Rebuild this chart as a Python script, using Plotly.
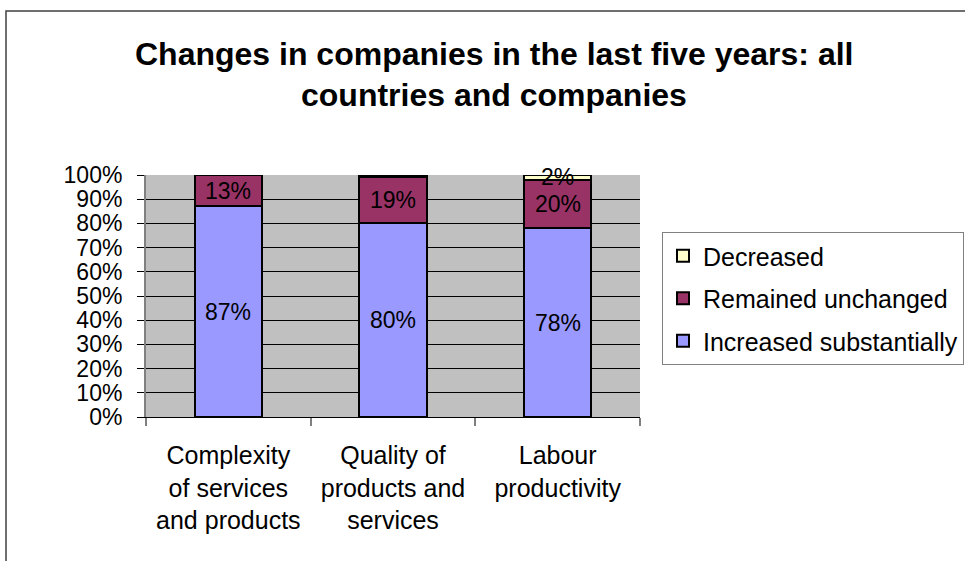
import plotly.graph_objects as go

# Survey results: share of companies per change type
categories = [
    "Complexity<br>of services<br>and products",
    "Quality of<br>products and<br>services",
    "Labour<br>productivity",
]
increased = [87, 80, 78]
unchanged = [13, 19, 20]
decreased = [0, 1, 2]
# Which segments get a value label (the 0% and 1% slivers stay unlabelled)
label_increased = [True, True, True]
label_unchanged = [True, True, True]
label_decreased = [False, False, True]

series = [
    ("Increased substantially", increased, "#9999FF", label_increased, 3),
    ("Remained unchanged", unchanged, "#993366", label_unchanged, 2),
    ("Decreased", decreased, "#FFFFCC", label_decreased, 1),
]

FONT = "Liberation Sans, Arial, sans-serif"

# Plot area in pixels (used to convert pixel positions to paper coords)
W, H = 965, 561
L, R, T, B = 146, 640, 175, 417
pw, ph = R - L, B - T


def px_x(x):
    return (x - L) / pw


def px_y(y):
    return (B - y) / ph


fig = go.Figure()
for name, vals, color, _, rank in series:
    fig.add_trace(go.Bar(
        x=categories, y=vals, name=name,
        marker=dict(color=color, line=dict(color="black", width=2)),
        width=0.41, legendgroup=name, legendrank=rank,
    ))

# Value labels at the middle of each stacked segment
annotations = []
base = [0] * len(categories)
for name, vals, color, show, _ in series:
    for j, v in enumerate(vals):
        if show[j]:
            annotations.append(dict(
                x=categories[j], y=base[j] + v / 2, xref="x", yref="y",
                text=f"{v}%", showarrow=False,
                font=dict(family=FONT, size=23, color="black"),
            ))
        base[j] += v

# Two-line bold title
annotations.append(dict(
    x=px_x(494), y=px_y(54), xref="paper", yref="paper",
    text="<b>Changes in companies in the last five years: all</b>",
    showarrow=False, xanchor="center", yanchor="middle",
    font=dict(family=FONT, size=32, color="black"),
))
annotations.append(dict(
    x=px_x(494), y=px_y(95), xref="paper", yref="paper",
    text="<b>countries and companies</b>",
    showarrow=False, xanchor="center", yanchor="middle",
    font=dict(family=FONT, size=32, color="black"),
))

fig.update_layout(
    width=W, height=H,
    margin=dict(l=L, r=W - R, t=T, b=H - B, pad=0, autoexpand=False),
    paper_bgcolor="white",
    plot_bgcolor="#C0C0C0",
    barmode="stack",
    font=dict(family=FONT, color="black"),
    showlegend=True,
    legend=dict(
        x=px_x(662), y=px_y(232), xanchor="left", yanchor="top",
        traceorder="grouped", tracegroupgap=7,
        bgcolor="white", bordercolor="#808080", borderwidth=1,
        font=dict(family=FONT, size=25, color="black"),
        itemwidth=30,
    ),
    annotations=annotations,
    shapes=[dict(
        type="rect", xref="paper", yref="paper",
        x0=px_x(6), x1=px_x(1100), y0=px_y(700), y1=px_y(11),
        line=dict(color="#404040", width=1.5), fillcolor="rgba(0,0,0,0)",
        layer="below",
    )],
)

fig.update_yaxes(
    range=[0, 100], dtick=10, ticksuffix="%",
    showgrid=True, gridcolor="black", gridwidth=1,
    showline=True, linecolor="#808080", linewidth=2,
    ticks="outside", ticklen=7, tickcolor="black",
    ticklabelstandoff=10,
    tickfont=dict(family=FONT, size=23, color="black"),
    zeroline=False, fixedrange=True,
)
fig.update_xaxes(
    showline=True, linecolor="black", linewidth=1,
    ticks="outside", ticklen=8, tickcolor="#808080", tickwidth=2,
    tickson="boundaries", ticklabelstandoff=16,
    tickfont=dict(family=FONT, size=25, color="black"),
    showgrid=False, fixedrange=True,
)

fig.write_html("out.html")
